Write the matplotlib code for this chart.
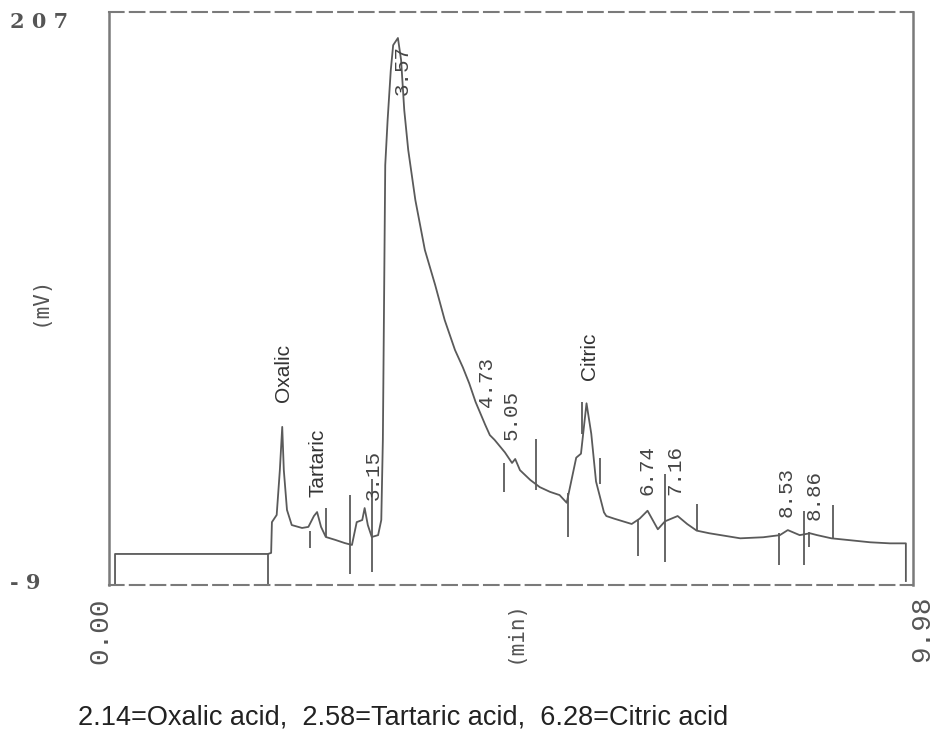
import matplotlib
matplotlib.use("Agg")
import matplotlib.pyplot as plt
import numpy as np

# ---------------- data ----------------
time_min = [0.00, 0.00, 1.93, 1.97, 1.98, 2.04, 2.08, 2.11, 2.13, 2.17, 2.23, 2.36,
            2.44, 2.51, 2.55, 2.60, 2.66, 2.78, 2.90, 2.99, 3.05, 3.12, 3.15, 3.19,
            3.24, 3.32, 3.36, 3.38, 3.41, 3.44, 3.48, 3.51, 3.57, 3.61, 3.65, 3.70,
            3.79, 3.91, 4.04, 4.16, 4.29, 4.39, 4.47, 4.55, 4.67, 4.73, 4.79, 4.92,
            5.01, 5.05, 5.11, 5.24, 5.36, 5.49, 5.61, 5.70, 5.82, 5.88, 5.95, 6.01,
            6.07, 6.17, 6.20, 6.30, 6.52, 6.62, 6.72, 6.85, 6.94, 7.10, 7.22, 7.34,
            7.50, 7.89, 8.18, 8.39, 8.49, 8.64, 8.77, 8.86, 9.04, 9.27, 9.53, 9.78,
            9.95, 9.98, 9.98]
signal_mv = [-9.0, 2.7, 2.7, 3.1, 14.7, 17.4, 34.3, 50.6, 34.3, 19.3, 13.6, 12.5,
             12.9, 17.0, 18.5, 12.9, 9.1, 8.0, 6.8, 6.1, 14.7, 15.5, 20.0, 13.6,
             9.1, 9.8, 15.5, 45.7, 149.3, 166.3, 185.1, 194.5, 197.2, 188.9, 170.0, 155.0,
             136.1, 117.3, 104.1, 90.9, 79.6, 73.0, 67.0, 60.0, 51.5, 47.5, 45.7, 41.0,
             37.0, 38.5, 34.3, 30.6, 27.9, 26.1, 24.9, 22.0, 39.0, 40.5, 59.5, 48.0,
             30.0, 18.4, 17.0, 16.0, 14.0, 16.0, 19.0, 12.0, 15.0, 17.0, 14.0, 11.5,
             10.5, 8.6, 9.0, 9.8, 11.7, 9.8, 10.5, 9.8, 8.6, 7.9, 7.1, 6.7,
             6.7, 6.7, -7.5]

# integration event markers: (time, low mV, high mV)
marker_t = [1.93, 2.46, 2.66, 2.96, 3.24, 4.91, 5.31, 5.72, 5.89, 6.12,
            6.60, 6.94, 7.34, 8.38, 8.70, 8.76, 9.06]
marker_lo = [-9.0, 5.0, 9.0, -5.0, -4.0, 26.0, 27.0, 9.0, 48.0, 29.0,
             2.0, -0.5, 11.5, -1.5, -1.5, 5.5, 8.6]
marker_hi = [2.7, 11.5, 20.0, 25.0, 31.0, 37.0, 46.0, 25.5, 60.0, 39.0,
             15.5, 33.0, 21.5, 10.5, 19.0, 11.0, 21.0]

# peak annotations: text, time, bottom of text (mV)
peak_text = ["Oxalic", "Tartaric", "3.15", "3.57", "4.73", "5.05",
             "Citric", "6.74", "7.16", "8.53", "8.86"]
peak_t = [2.13, 2.56, 3.26, 3.62, 4.69, 5.00, 5.99, 6.71, 7.07, 8.47, 8.82]
peak_y = [60.0, 24.2, 23.0, 175.7, 58.1, 45.7, 68.3, 24.9, 24.9, 16.6, 15.5]
peak_is_name = [True, True, False, False, False, False, True, False, False, False, False]

y_min, y_max = -9, 207
x_min, x_max = 0.00, 9.98
y_labels = ["2 0 7", "- 9"]
x_labels = ["0.00", "9.98"]
caption = "2.14=Oxalic acid,  2.58=Tartaric acid,  6.28=Citric acid"

# ---------------- figure ----------------
W, H = 936, 743
fig = plt.figure(figsize=(W / 100, H / 100), dpi=100)
ax = fig.add_axes([109 / W, 1 - 585 / H, (913 - 109) / W, (585 - 12) / H])

line_col = "#5a5a5a"
frame_col = "#7a7a7a"

ax.plot(time_min, signal_mv, color=line_col, lw=1.3, solid_joinstyle="round")
ax.vlines(marker_t, marker_lo, marker_hi, color=line_col, lw=1.3)

ax.set_xlim(-0.076, 10.07)
ax.set_ylim(y_min, y_max)
ax.set_xticks([])
ax.set_yticks([])

for side in ["left", "right"]:
    ax.spines[side].set_color(frame_col)
    ax.spines[side].set_linewidth(1.8)
for side in ["top", "bottom"]:
    ax.spines[side].set_color(frame_col)
    ax.spines[side].set_linewidth(1.5)
    ax.spines[side].set_linestyle((0, (7, 3)))

for txt, t, y, is_name in zip(peak_text, peak_t, peak_y, peak_is_name):
    if is_name:
        ax.text(t, y, txt, rotation=90, ha="center", va="bottom",
                fontsize=15, family="Liberation Sans", color="#333333")
    else:
        ax.text(t, y, txt, rotation=90, ha="center", va="bottom",
                fontsize=15, family="Liberation Mono", color="#444444")

# y end labels
fig.text(10 / W, 1 - 22 / H, y_labels[0], ha="left", va="center",
         fontsize=15, family="DejaVu Serif", weight="bold", color="#555555")
fig.text(10 / W, 1 - 583 / H, y_labels[1], ha="left", va="center",
         fontsize=15, family="DejaVu Serif", weight="bold", color="#555555")
fig.text(40 / W, 1 - 301 / H, "(mV)", ha="center", va="center", rotation=90,
         fontsize=15, family="DejaVu Sans Mono", color="#555555")

# x end labels
fig.text(100 / W, 1 - 598 / H, x_labels[0], ha="center", va="top", rotation=90,
         fontsize=20, family="Liberation Mono", color="#555555")
fig.text(922 / W, 1 - 595 / H, x_labels[1], ha="center", va="top", rotation=90,
         fontsize=20, family="Liberation Mono", color="#555555")
fig.text(515 / W, 1 - 600 / H, "(min)", ha="center", va="top", rotation=90,
         fontsize=15, family="DejaVu Sans Mono", color="#555555")

fig.text(78 / W, 1 - 718 / H, caption, ha="left", va="center",
         fontsize=19.5, family="Liberation Sans", color="#222222")

fig.savefig("out.png", dpi=100)
